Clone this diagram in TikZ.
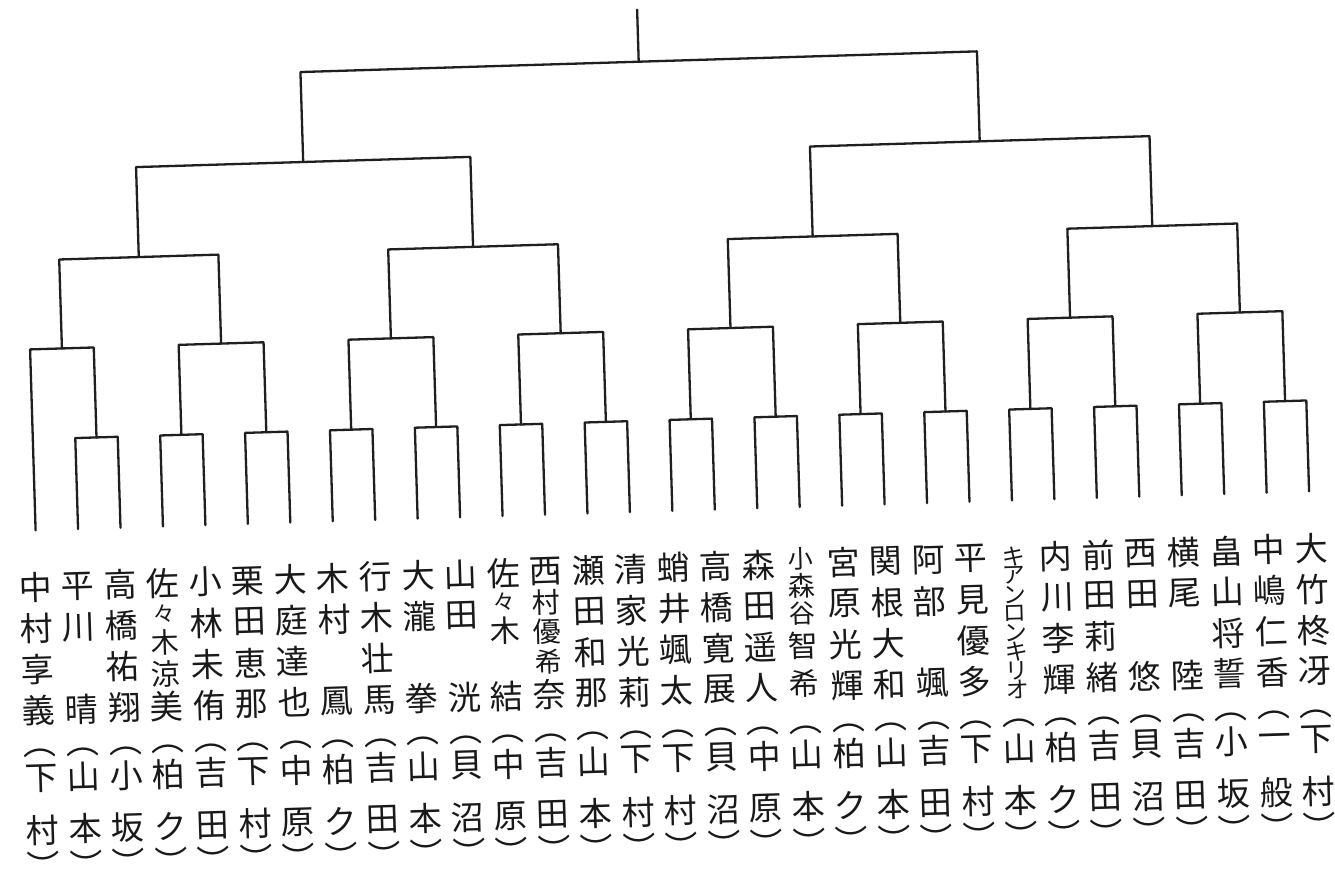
\documentclass[tikz,border=0pt]{standalone}
\usepackage{fontspec}
\newfontfamily\jpfont{Noto Sans CJK JP}
\usetikzlibrary{calc}

\tikzset{
  line/.style={line width=2.3pt, draw=black!88, line cap=round, line join=round},
  kanji/.style={font=\jpfont\fontsize{33}{33}\selectfont, inner sep=0pt, text=black!90},
}
\newcommand\kfs[1]{\jpfont\fontsize{#1}{#1}\selectfont}

\begin{document}
\begin{tikzpicture}[x=1pt,y=-1pt]
\useasboundingbox[fill=white] (0,0) rectangle (1335,873);

% the scanned sheet sits slightly tilted
\begin{scope}[transform canvas={rotate around={1.75:(667,436)}}]

% bottom ends of the 31 lines
\foreach \i in {0,...,30}
  \coordinate (L\i) at ({33+42.47*\i},511);

% first round
\foreach \k in {1,...,15}{
  \pgfmathtruncatemacro\lft{2*\k-1}
  \pgfmathtruncatemacro\rgt{2*\k}
  \path ($(L\lft)!0.5!(L\rgt)$) coordinate (tmp);
  \coordinate (A\k) at (tmp |- 0,420);
  \draw[line] (L\lft) |- (A\k) -| (L\rgt);
}

% later rounds
\foreach \n/\p/\q/\v in {B1/L0/A1/330, B2/A2/A3/330, B3/A4/A5/330, B4/A6/A7/330,
    B5/A8/A9/330, B6/A10/A11/330, B7/A12/A13/330, B8/A14/A15/330,
    C1/B1/B2/241, C2/B3/B4/241, C3/B5/B6/241, C4/B7/B8/241,
    D1/C1/C2/151, D2/C3/C4/151, E/D1/D2/61}{
  \path ($(\p)!0.5!(\q)$) coordinate (tmp);
  \coordinate (\n) at (tmp |- 0,\v);
  \draw[line] (\p) |- (\n) -| (\q);
}

% final
\coordinate (top) at (E |- 0,9);
\draw[line] (E) -- (top);

% names, one character per row
\foreach \nm [count=\i from 0] in {{中,村,享,義},{平,川,,晴},{高,橋,祐,翔},{},{小,林,未,侑},
    {栗,田,恵,那},{大,庭,達,也},{木,村,,鳳},{行,木,壮,馬},{大,瀧,,拳},{山,田,,洸},{},{},
    {瀬,田,和,那},{清,家,光,莉},{蛸,井,颯,太},{高,橋,寛,展},{森,田,遥,人},{},{宮,原,光,輝},
    {関,根,大,和},{阿,部,,颯},{平,見,優,多},{},{内,川,李,輝},{前,田,莉,緒},{西,田,,悠},
    {横,尾,,陸},{畠,山,将,誓},{中,嶋,仁,香},{大,竹,柊,冴}}
  \foreach \ch [count=\r] in \nm {
    \ifx\ch\empty\else
      \node[kanji] (n\i-\r) at ({31+42.55*\i},{568+41*(\r-1)}) {\ch};
    \fi
  }

% squeezed names
\node[kanji] (n3-1) at (158.7,568) {佐};
\node[kanji,font=\kfs{22}] (n3-2) at (158.7,598) {々};
\node[kanji,font=\kfs{28}] (n3-3) at (158.7,627) {木};
\node[kanji,font=\kfs{29}] (n3-4) at (158.7,659) {涼};
\node[kanji] (n3-5) at (158.7,691) {美};

\node[kanji] (n11-1) at (499.1,568) {佐};
\node[kanji,font=\kfs{22}] (n11-2) at (499.1,597) {々};
\node[kanji,font=\kfs{30}] (n11-3) at (499.1,626) {木};
\node[kanji] (n11-4) at (499.1,691) {結};

\node[kanji] (n12-1) at (541.6,568) {西};
\node[kanji,font=\kfs{28}] (n12-2) at (541.6,599) {村};
\node[kanji,font=\kfs{28}] (n12-3) at (541.6,628) {優};
\node[kanji,font=\kfs{27}] (n12-4) at (541.6,658) {希};
\node[kanji] (n12-5) at (541.6,691) {奈};

\node[kanji,font=\kfs{25}] (n18-1) at (796.9,563) {小};
\node[kanji,font=\kfs{27}] (n18-2) at (796.9,590) {森};
\node[kanji,font=\kfs{26}] (n18-3) at (796.9,618) {谷};
\node[kanji,font=\kfs{30}] (n18-4) at (796.9,650) {智};
\node[kanji,font=\kfs{30}] (n18-5) at (796.9,688) {希};

\foreach \ch [count=\r from 0] in {キ,ア,ン,ロ,ン,キ,リ,オ}
  \node[kanji,font=\kfs{23}] (n23-\r) at (1009.6,{567+19*\r}) {\ch};

% clubs in vertical brackets
\foreach \hi/\lo [count=\i from 0] in {下/村,山/本,小/坂,柏/ク,吉/田,下/村,中/原,柏/ク,吉/田,山/本,
    貝/沼,中/原,吉/田,山/本,下/村,下/村,貝/沼,中/原,山/本,柏/ク,山/本,吉/田,下/村,山/本,
    柏/ク,吉/田,貝/沼,吉/田,小/坂,一/般,下/村}{
  \node[kanji] (o\i) at ({31+42.55*\i},734) {︵};
  \node[kanji] (s\i) at ({31+42.55*\i},759) {\hi};
  \node[kanji] (t\i) at ({31+42.55*\i},811) {\lo};
  \node[kanji] (c\i) at ({31+42.55*\i},846) {︶};
}

\end{scope}
\end{tikzpicture}
\end{document}
